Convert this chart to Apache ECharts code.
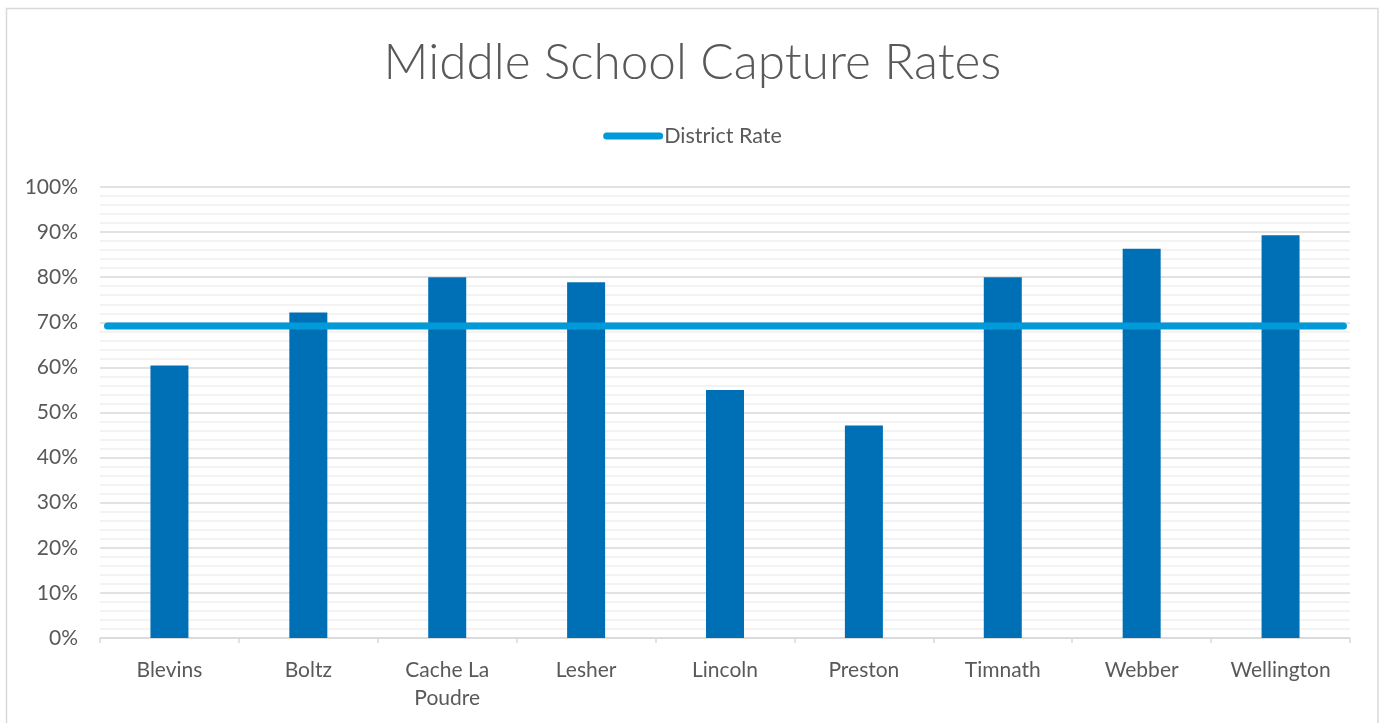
<!DOCTYPE html>
<html>
<head>
<meta charset="utf-8">
<script src="https://cdn.jsdelivr.net/npm/echarts@6/dist/echarts.min.js"></script>
<style>html,body{margin:0;padding:0;background:#fff}#c{width:1385px;height:723px}</style>
</head>
<body>
<div id="c"></div>
<script>
const categories = ['Blevins', 'Boltz', 'Cache La\nPoudre', 'Lesher', 'Lincoln', 'Preston', 'Timnath', 'Webber', 'Wellington'];
const schoolRates = [60.4, 72.2, 80.0, 78.9, 55.0, 47.1, 80.0, 86.3, 89.3];
const districtRate = [69.2, 69.2, 69.2, 69.2, 69.2, 69.2, 69.2, 69.2, 69.2];
const yTicks = { min: 0, max: 100, interval: 10 };

const chart = echarts.init(document.getElementById('c'));
const font = 'Lato, "Open Sans", sans-serif';
chart.setOption({
  animation: false,
  backgroundColor: '#ffffff',
  graphic: [{
    type: 'rect', silent: true,
    shape: { x: 6.5, y: 8.5, width: 1371.5, height: 730 },
    style: { fill: 'none', stroke: '#d9d9d9', lineWidth: 1.5 }
  }],
  title: {
    text: 'Middle School Capture Rates',
    left: 'center', top: 33,
    textStyle: { fontFamily: font, fontWeight: 300, fontSize: 49.5, color: '#595959' }
  },
  legend: {
    top: 120, left: 'center',
    itemWidth: 60, itemHeight: 7, itemGap: 10,
    data: [{ name: 'District Rate', icon: 'path://M3.5,0 h53 a3.5,3.5 0 0 1 0,7 h-53 a3.5,3.5 0 0 1 0,-7z' }],
    textStyle: { fontFamily: font, fontSize: 21.5, color: '#595959', padding: [0, 0, 0, -4] }
  },
  grid: [
    { left: 100, right: 35, top: 187, bottom: 85 },
    { left: 107.5, right: 41.5, top: 187, bottom: 85 }
  ],
  xAxis: [{
    type: 'category', data: categories, gridIndex: 0,
    axisLine: { lineStyle: { color: '#d9d9d9', width: 1.5 } },
    axisTick: { show: true, length: 5, lineStyle: { color: '#d9d9d9', width: 1.5 } },
    axisLabel: { fontFamily: font, fontSize: 21, color: '#595959', margin: 18, lineHeight: 28 }
  }, {
    type: 'category', data: categories, gridIndex: 1, boundaryGap: false, show: false
  }],
  yAxis: [{
    type: 'value', gridIndex: 0, min: yTicks.min, max: yTicks.max, interval: yTicks.interval,
    axisLine: { show: false }, axisTick: { show: false },
    axisLabel: { formatter: '{value}%', fontFamily: font, fontSize: 21, color: '#595959', margin: 22 },
    splitLine: { lineStyle: { color: '#d9d9d9', width: 1.5 } },
    minorTick: { show: false, splitNumber: 5 },
    minorSplitLine: { show: true, lineStyle: { color: '#efefef', width: 1.5 } }
  }, {
    type: 'value', gridIndex: 1, min: yTicks.min, max: yTicks.max, interval: yTicks.interval, show: false,
    splitLine: { show: false }
  }],
  series: [{
    name: 'Capture Rate', type: 'bar', data: schoolRates, barWidth: 38,
    itemStyle: { color: '#0070b6' }, z: 2
  }, {
    name: 'District Rate', type: 'line', xAxisIndex: 1, yAxisIndex: 1, data: districtRate,
    symbol: 'none', lineStyle: { color: '#009ad9', width: 7, cap: 'round' },
    itemStyle: { color: '#009ad9' }, z: 3
  }]
});
</script>
</body>
</html>
